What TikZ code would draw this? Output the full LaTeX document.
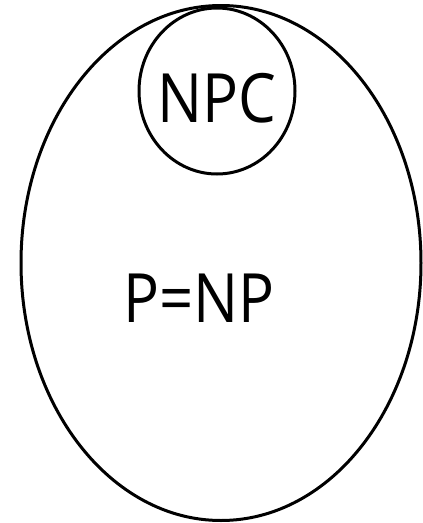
\documentclass[tikz,border=0pt]{standalone}
\usepackage{fontspec}
\setmainfont{Open Sans}
\usetikzlibrary{shapes.geometric}

\begin{document}
\begin{tikzpicture}[
  x=1pt, y=-1pt,
  set/.style={draw=black, line width=3pt, ellipse, inner sep=0pt},
  lbl/.style={font=\fontsize{68}{72}\selectfont, inner sep=0pt, anchor=base,
              xscale=0.88, transform shape}
]
\useasboundingbox (0,0) rectangle (423,523);

\node[set, minimum width=400pt, minimum height=515pt] (pnp) at (221,263) {};
\node[set, minimum width=156pt, minimum height=166pt] (npc) at (217,91) {};

\node[lbl] (npclbl) at (217,122) {NPC};
\node[lbl] (pnplbl) at (199,322) {P=NP};
\end{tikzpicture}
\end{document}
